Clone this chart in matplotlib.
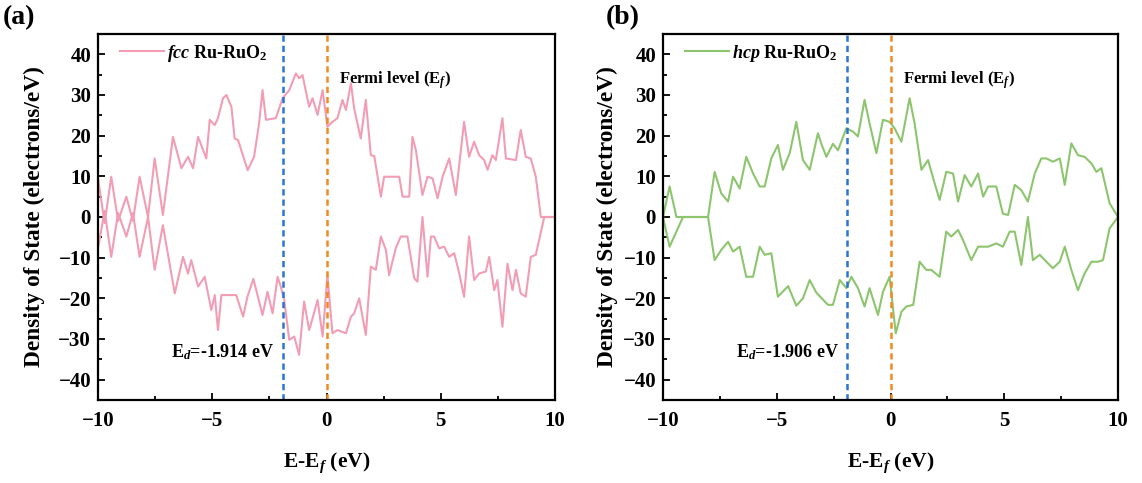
import numpy as np
import matplotlib
matplotlib.use('Agg')
import matplotlib.pyplot as plt
from matplotlib.ticker import MultipleLocator

plt.rcParams['font.family'] = 'Liberation Serif'
plt.rcParams['font.weight'] = 'bold'
plt.rcParams['axes.labelweight'] = 'bold'
plt.rcParams['mathtext.fontset'] = 'custom'
plt.rcParams['mathtext.rm'] = 'Liberation Serif:bold'
plt.rcParams['mathtext.bf'] = 'Liberation Serif:bold'
plt.rcParams['mathtext.it'] = 'Liberation Serif:italic'

# ---- fcc Ru-RuO2: spin up / spin down DOS ----
fcc_up_e = [-10.0, -9.71, -9.42, -9.12, -8.76, -8.47, -8.18, -7.81, -7.52, -7.16,
            -6.72, -6.35, -6.06, -5.84, -5.62, -5.26, -5.11, -4.89, -4.75, -4.53,
            -4.38, -4.16, -4.02, -3.87, -3.45, -3.17, -2.95, -2.80, -2.65, -2.22,
            -1.92, -1.63, -1.34, -1.20, -1.05, -0.76, -0.61, -0.39, -0.17, 0.04,
            0.26, 0.48, 0.70, 0.85, 1.07, 1.21, 1.50, 1.72, 1.94, 2.09,
            2.38, 2.52, 3.18, 3.33, 3.62, 3.76, 3.91, 4.20, 4.42, 4.64,
            4.86, 5.08, 5.37, 5.66, 6.02, 6.24, 6.46, 6.68, 6.90, 7.05,
            7.26, 7.41, 7.70, 7.85, 8.29, 8.50, 8.72, 8.94, 9.16, 9.38, 10.0]
fcc_up = [9.5, -1.5, 9.9, -1.0, 5.0, -1.0, 9.9, 0.0, 14.4, 0.5,
          19.7, 12.0, 14.8, 12.0, 19.7, 14.4, 23.9, 22.6, 24.3, 29.2,
          30.0, 27.1, 19.3, 18.9, 11.5, 14.8, 23.0, 31.2, 23.9, 24.3,
          29.2, 31.2, 35.3, 34.1, 34.9, 27.1, 29.2, 25.1, 31.2, 22.2,
          23.4, 24.3, 28.8, 26.3, 32.9, 26.7, 19.3, 28.8, 15.2, 15.0,
          5.0, 9.9, 9.9, 5.0, 5.0, 19.7, 16.5, 5.4, 9.9, 9.5,
          4.6, 9.9, 14.4, 5.4, 23.4, 14.8, 18.5, 15.2, 14.0, 11.6,
          15.2, 14.0, 24.3, 14.4, 14.0, 21.4, 14.8, 14.4, 9.9, 0.0, 0.0]

fcc_dn_e = [-10.0, -9.71, -9.42, -9.12, -8.76, -8.47, -8.18, -7.81, -7.52, -7.16,
            -6.64, -6.28, -6.06, -5.92, -5.62, -5.33, -5.04, -4.89, -4.75, -4.60,
            -3.95, -3.65, -3.46, -3.20, -2.80, -2.58, -2.36, -2.14, -2.00, -1.85,
            -1.63, -1.41, -1.20, -0.98, -0.76, -0.61, -0.39, -0.17, 0.04, 0.26,
            0.48, 0.85, 1.07, 1.21, 1.43, 1.72, 1.94, 2.16, 2.38, 2.60,
            2.74, 3.03, 3.25, 3.54, 3.84, 3.98, 4.20, 4.42, 4.57, 4.71,
            4.93, 5.15, 5.37, 5.59, 5.81, 6.02, 6.24, 6.46, 6.68, 6.97,
            7.12, 7.34, 7.48, 7.70, 7.92, 8.14, 8.29, 8.50, 8.72, 8.94,
            9.16, 9.53, 10.0]
fcc_dn = [-7.7, 1.5, -9.8, 1.0, -4.8, 1.0, -9.8, 0.0, -13.0, -2.0,
          -18.8, -9.8, -13.9, -10.6, -17.1, -14.7, -22.9, -19.2, -27.8, -19.2,
          -19.2, -24.5, -19.6, -15.2, -24.1, -18.4, -23.7, -14.7, -17.1, -20.4,
          -30.2, -29.4, -33.9, -20.8, -27.8, -24.9, -20.4, -29.4, -14.3, -28.6,
          -27.8, -28.6, -24.5, -23.7, -20.0, -29.0, -12.2, -13.0, -4.8, -8.1,
          -14.3, -7.7, -4.8, -4.8, -15.1, -15.9, 0.0, -14.7, -4.8, -4.8,
          -7.7, -7.3, -9.8, -8.9, -13.9, -19.6, -4.8, -15.5, -13.9, -13.4,
          -9.8, -18.0, -15.5, -27.0, -11.5, -18.0, -13.0, -18.8, -19.6, -9.8,
          -9.3, 0.0, 0.0]

# ---- hcp Ru-RuO2: spin up / spin down DOS ----
hcp_up_e = [-10.0, -9.71, -9.41, -8.02, -7.73, -7.44, -7.14, -6.92, -6.63, -6.34,
            -6.04, -5.75, -5.53, -5.24, -4.95, -4.73, -4.43, -4.14, -3.85, -3.55,
            -3.19, -3.04, -2.82, -2.53, -2.31, -1.94, -1.65, -1.43, -1.14, -0.92,
            -0.62, -0.33, -0.04, 0.18, 0.48, 0.84, 1.06, 1.36, 1.65, 1.94,
            2.16, 2.45, 2.75, 2.97, 3.26, 3.55, 3.85, 4.07, 4.29, 4.65,
            4.94, 5.17, 5.46, 5.75, 6.04, 6.34, 6.63, 6.85, 7.14, 7.44,
            7.66, 7.95, 8.24, 8.53, 8.83, 9.05, 9.27, 9.63, 10.0]
hcp_up = [0.0, 7.5, 0.0, 0.0, 11.1, 5.8, 3.8, 9.9, 7.0, 14.8,
          10.7, 7.5, 7.5, 14.4, 17.7, 11.6, 15.7, 23.4, 14.0, 11.6,
          20.6, 18.0, 14.8, 18.0, 16.4, 21.8, 21.0, 19.8, 28.8, 23.0,
          15.7, 23.9, 23.4, 21.8, 18.5, 29.2, 23.0, 11.6, 14.0, 8.3,
          4.2, 11.1, 10.7, 3.8, 10.3, 7.5, 10.7, 5.0, 7.5, 7.5,
          0.8, 0.5, 7.9, 6.6, 3.8, 10.7, 14.4, 14.4, 13.6, 14.4,
          7.9, 18.1, 15.2, 14.8, 13.2, 11.1, 12.0, 3.4, 0.0]

hcp_dn_e = [-10.0, -9.71, -9.12, -8.02, -7.73, -7.44, -7.14, -6.92, -6.63, -6.34,
            -6.04, -5.75, -5.53, -5.24, -4.95, -4.50, -4.14, -3.85, -3.55, -3.26,
            -2.75, -2.53, -2.23, -1.94, -1.72, -1.43, -1.14, -0.92, -0.55, -0.33,
            -0.04, 0.23, 0.48, 0.70, 1.00, 1.28, 1.57, 1.79, 2.16, 2.45,
            2.67, 2.97, 3.19, 3.55, 3.85, 4.29, 4.65, 4.94, 5.24, 5.46,
            5.75, 6.04, 6.26, 6.56, 6.85, 7.14, 7.44, 7.66, 7.95, 8.24,
            8.53, 8.83, 9.12, 9.34, 9.63, 10.0]
hcp_dn = [0.0, -7.3, 0.0, 0.0, -10.6, -8.1, -6.1, -8.5, -7.3, -14.7,
          -14.7, -7.3, -9.3, -8.9, -19.6, -17.0, -21.8, -20.0, -15.5, -18.6,
          -21.6, -21.6, -15.5, -17.5, -14.7, -17.5, -22.0, -17.5, -24.1, -18.4,
          -14.7, -28.6, -23.3, -22.0, -21.6, -11.0, -13.0, -13.0, -14.7, -3.6,
          -4.8, -3.2, -5.7, -10.6, -7.3, -7.3, -6.5, -7.3, -3.6, -3.6,
          -11.8, 0.0, -10.6, -9.3, -11.0, -12.6, -11.0, -7.3, -13.0, -18.0,
          -13.9, -11.0, -11.0, -10.6, -2.8, 0.0]

panels = [
    dict(tag='(a)', phase='fcc', color='#f39db5', ed=-1.914,
         up_e=fcc_up_e, up=fcc_up, dn_e=fcc_dn_e, dn=fcc_dn),
    dict(tag='(b)', phase='hcp', color='#8dc56f', ed=-1.906,
         up_e=hcp_up_e, up=hcp_up, dn_e=hcp_dn_e, dn=hcp_dn),
]

W, H = 1142, 483
fig = plt.figure(figsize=(W / 100, H / 100), dpi=100)
axes_px = [(98, 457), (663, 455)]
tag_px = [3, 606]
ylab_x = [-0.116, -0.10]

for p, (x0, w), tx, yx in zip(panels, axes_px, tag_px, ylab_x):
    ax = fig.add_axes([x0 / W, 83 / H, w / W, 366 / H])
    ax.plot(p['up_e'], p['up'], color=p['color'], lw=1.5,
            label=r'$\mathit{%s}$ Ru-RuO$_\mathbf{2}$' % p['phase'])
    ax.plot(p['dn_e'], p['dn'], color=p['color'], lw=1.5)
    ax.axvline(p['ed'], color='#2a74d6', ls=(0, (2.5, 1.6)), lw=1.8)
    ax.axvline(0, color='#f28a22', ls=(0, (2.5, 1.6)), lw=1.8)

    ax.set_xlim(-10, 10)
    ax.set_ylim(-45, 45)
    ax.xaxis.set_major_locator(MultipleLocator(5))
    ax.xaxis.set_minor_locator(MultipleLocator(2.5))
    ax.yaxis.set_major_locator(MultipleLocator(10))
    ax.yaxis.set_minor_locator(MultipleLocator(5))
    ax.tick_params(which='both', direction='in', labelsize=15, width=1.3)
    ax.tick_params(which='major', length=5)
    ax.tick_params(which='minor', length=3)
    ax.tick_params(axis='x', which='major', pad=8)
    ax.tick_params(axis='y', which='major', pad=5)
    for lab in ax.get_xticklabels() + ax.get_yticklabels():
        lab.set_fontweight('bold')
    for s in ax.spines.values():
        s.set_linewidth(1.6)

    ax.set_xlabel(r'E-E$_\mathit{f}$ (eV)', fontsize=15.5, labelpad=14)
    ax.set_ylabel('Density of State (electrons/eV)', fontsize=16.8)
    ax.yaxis.set_label_coords(yx, 0.5)

    ax.text(0.55, 33.7, r'Fermi level (E$_\mathit{f}$)', fontsize=12,
            va='center', ha='left')
    ax.text(p['ed'] - 0.37, -33.2, r'E$_\mathit{d}$=%.3f eV' % p['ed'],
            fontsize=13, va='center', ha='right')

    # legend box anchored so its line starts ~22 px inside the frame
    ax.legend(loc='center left', bbox_to_anchor=(0.033, 0.948), frameon=False,
              fontsize=13, handlelength=2.4, handletextpad=0.2,
              borderaxespad=0.0)

    fig.text(tx / W, 1 - 18 / H, p['tag'], fontsize=20, va='center', ha='left')

fig.savefig('out.png', dpi=100)
